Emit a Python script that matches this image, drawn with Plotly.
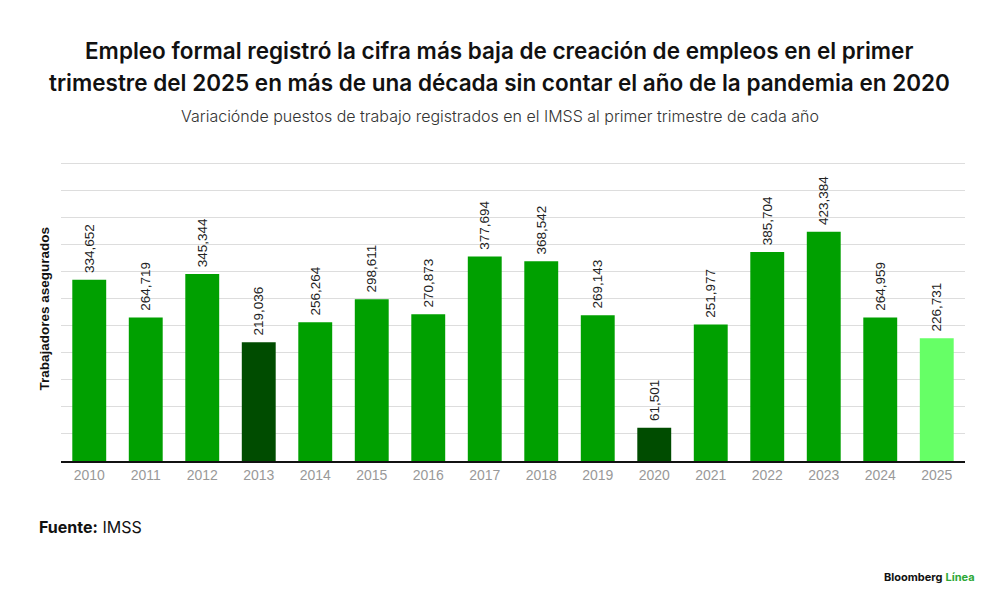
import plotly.graph_objects as go

years = ["2010", "2011", "2012", "2013", "2014", "2015", "2016", "2017",
         "2018", "2019", "2020", "2021", "2022", "2023", "2024", "2025"]
empleos = [334652, 264719, 345344, 219036, 256264, 298611, 270873, 377694,
           368542, 269143, 61501, 251977, 385704, 423384, 264959, 226731]
etiquetas = ["\u00a0" + f"{v:,}" for v in empleos]

verde = "#00A000"
oscuro = "#004C00"
claro = "#66FF66"
colores = []
for y in years:
    if y in ("2013", "2020"):
        colores.append(oscuro)
    elif y == "2025":
        colores.append(claro)
    else:
        colores.append(verde)

fig = go.Figure()
fig.add_trace(go.Bar(
    x=years, y=empleos, marker_color=colores, marker_line_width=0,
    text=etiquetas, textposition="outside", textangle=-90,
    constraintext="none",
    textfont=dict(family="Liberation Sans", size=13.5, color="#222"),
    cliponaxis=False, hoverinfo="skip"
))

# the page puts the figure 8px in from the top-left corner
fig.update_layout(
    width=1000, height=604,
    margin=dict(l=53, r=43, t=154, b=151),
    plot_bgcolor="white", paper_bgcolor="white",
    bargap=0.4, showlegend=False,
    xaxis=dict(
        showline=True, linecolor="#111", linewidth=2,
        tickfont=dict(family="Liberation Sans", size=14, color="#999"),
        ticks="", showgrid=False, automargin=False
    ),
    yaxis=dict(
        range=[0, 552000], dtick=50000, showticklabels=False,
        showgrid=True, gridcolor="#DDDDDD", gridwidth=1, zeroline=False,
        automargin=False
    )
)

titulo = ["Empleo formal registró la cifra más baja de creación de empleos en el primer",
          "trimestre del 2025 en más de una década sin contar el año de la pandemia en 2020"]
for i, linea in enumerate(titulo):
    fig.add_annotation(
        text=linea, xref="paper", yref="paper", x=0.5, xshift=-14, y=1, yshift=112 - 32 * i,
        xanchor="center", yanchor="middle", showarrow=False,
        font=dict(family="Inter", size=22.5, color="#111", weight=600)
    )

fig.add_annotation(
    text="Variaciónde puestos de trabajo registrados en el IMSS al primer trimestre de cada año",
    xref="paper", yref="paper", x=0.5, xshift=-13, y=1, yshift=46, xanchor="center",
    yanchor="middle", showarrow=False,
    font=dict(family="Inter", size=16, color="#333", weight=300)
)
fig.add_annotation(
    text="<b>Trabajadores asegurados</b>", textangle=-90,
    xref="paper", yref="paper", x=0, xshift=-16, y=0.51, xanchor="center", yanchor="middle",
    showarrow=False, font=dict(family="Liberation Sans", size=13.5, color="#111")
)
fig.add_annotation(
    text="<b>Fuente:</b> IMSS",
    xref="paper", yref="paper", x=0, xshift=-24, xanchor="left", y=0, yshift=-66,
    yanchor="middle", showarrow=False, font=dict(family="Inter", size=16, color="#111")
)
fig.add_annotation(
    text="<b>Bloomberg</b> <span style='color:#2EA836'><b>Línea</b></span>",
    xref="paper", yref="paper", x=1, xshift=12, xanchor="right", y=0, yshift=-116,
    yanchor="middle", showarrow=False, font=dict(family="Inter", size=11, color="#111")
)

fig.write_html("out.html")
